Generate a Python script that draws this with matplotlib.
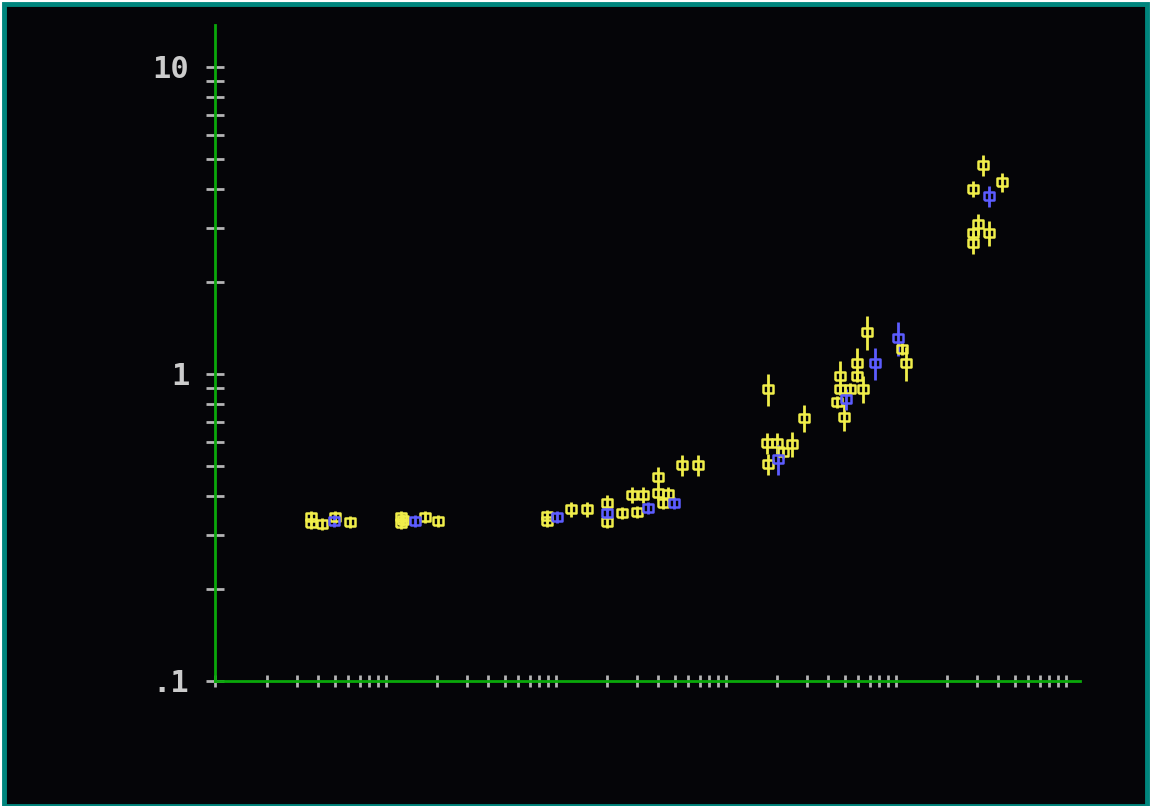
import matplotlib
matplotlib.use("Agg")
import matplotlib.pyplot as plt
from matplotlib.patches import Rectangle
from matplotlib.ticker import FixedLocator, NullFormatter

# yellow series
yel_x = [1.81, 1.81, 2.11, 2.51, 3.08, 6.14, 6.14, 6.3, 8.5, 10.1,
         44.4, 44.4, 61.4, 76.3, 100, 100, 122, 140, 163, 150,
         200, 200, 213, 228, 276, 343,
         885, 1442, 873, 1000, 1225, 885, 1085,
         2348, 2956, 2956, 2348, 2687, 3206, 2254, 2477, 3384, 5436, 5740,
         16280, 21080, 14220, 15210, 14220, 17660, 14220]
yel_y = [0.342, 0.327, 0.325, 0.342, 0.330, 0.342, 0.327, 0.334, 0.342, 0.332,
         0.345, 0.332, 0.363, 0.363, 0.380, 0.330, 0.352, 0.404, 0.404, 0.355,
         0.462, 0.410, 0.380, 0.407, 0.505, 0.505,
         0.894, 0.719, 0.596, 0.596, 0.592, 0.509, 0.557,
         0.985, 1.086, 0.985, 0.894, 0.894, 0.894, 0.811, 0.724, 1.37, 1.206, 1.086,
         4.80, 4.22, 4.01, 3.08, 2.88, 2.88, 2.67]
yel_err = [0.015, 0.015, 0.015, 0.015, 0.015, 0.015, 0.015, 0.015, 0.015, 0.015,
           0.016, 0.015, 0.020, 0.020, 0.023, 0.015, 0.016, 0.025, 0.025, 0.016,
           0.036, 0.020, 0.018, 0.020, 0.039, 0.039,
           0.106, 0.073, 0.046, 0.046, 0.056, 0.040, 0.025,
           0.117, 0.129, 0.045, 0.040, 0.040, 0.091, 0.036, 0.074, 0.174, 0.054, 0.138,
           0.374, 0.296, 0.249, 0.240, 0.130, 0.271, 0.208]

# blue series
blu_x = [2.48, 7.42, 50.8, 100, 174, 248, 1014, 2546, 3770, 5150, 17660]
blu_y = [0.332, 0.332, 0.342, 0.352, 0.366, 0.380, 0.529, 0.829, 1.086, 1.31, 3.80]
blu_err = [0.015, 0.015, 0.015, 0.016, 0.017, 0.018, 0.059, 0.065, 0.129, 0.166, 0.296]

y_ticks = [0.1, 1, 10]
y_labels = [".1", "1", "10"]

W, H = 1151, 806
fig = plt.figure(figsize=(W / 100, H / 100), dpi=100, facecolor="white")
fig.patches.append(Rectangle((4 / W, 0), (W - 8) / W, (H - 4) / H, transform=fig.transFigure,
                             facecolor="#050508", edgecolor="#00857d", linewidth=3.5, zorder=-10))

ax = fig.add_axes([215 / W, 125 / H, 865 / W, 656 / H])
ax.set_facecolor("none")
ax.set_xscale("log")
ax.set_yscale("log")
ax.set_xlim(0.494, 60560)
ax.set_ylim(0.1, 13.7)

box = [(-6, -4), (6, -4), (6, 4), (-6, 4), (-6, -4)]
for xs, ys, es, col in [(yel_x, yel_y, yel_err, "#f0ee4a"), (blu_x, blu_y, blu_err, "#5c5cff")]:
    ax.errorbar(xs, ys, yerr=es, fmt="none", ecolor=col, elinewidth=2.0, capsize=0, zorder=3)
    ax.plot(xs, ys, linestyle="none", marker=box, markersize=7.8, markerfacecolor="none",
            markeredgecolor=col, markeredgewidth=1.8, zorder=4)

for side in ["top", "right"]:
    ax.spines[side].set_visible(False)
for side in ["left", "bottom"]:
    ax.spines[side].set_color("#0aa80a")
    ax.spines[side].set_linewidth(2.0)

# x ticks: decades plus 1.5 .. 5 steps, no labels
x_minor = [0.494]
for d in [1, 10, 100, 1000, 10000]:
    x_minor += [d * m for m in [1.5, 2, 2.5, 3, 3.5, 4, 4.5, 5]]
ax.xaxis.set_major_locator(FixedLocator([1, 10, 100, 1000, 10000]))
ax.xaxis.set_minor_locator(FixedLocator(x_minor))
ax.xaxis.set_major_formatter(NullFormatter())
ax.xaxis.set_minor_formatter(NullFormatter())
ax.tick_params(axis="x", which="both", direction="inout", length=8, width=2, color="#b4b4b4")

y_minor = [d * m for d in [0.1, 1] for m in range(2, 10)]
ax.yaxis.set_major_locator(FixedLocator(y_ticks))
ax.yaxis.set_minor_locator(FixedLocator(y_minor))
ax.yaxis.set_minor_formatter(NullFormatter())
ax.set_yticklabels(y_labels)
ax.tick_params(axis="y", which="both", direction="inout", length=13, width=2, color="#b4b4b4")
ax.tick_params(axis="y", which="major", pad=12, labelcolor="#cccccc", labelsize=22)
for lab in ax.get_yticklabels():
    lab.set_family("DejaVu Sans Mono")
    lab.set_fontweight("bold")

fig.savefig("out.png", dpi=100, facecolor=fig.get_facecolor())
